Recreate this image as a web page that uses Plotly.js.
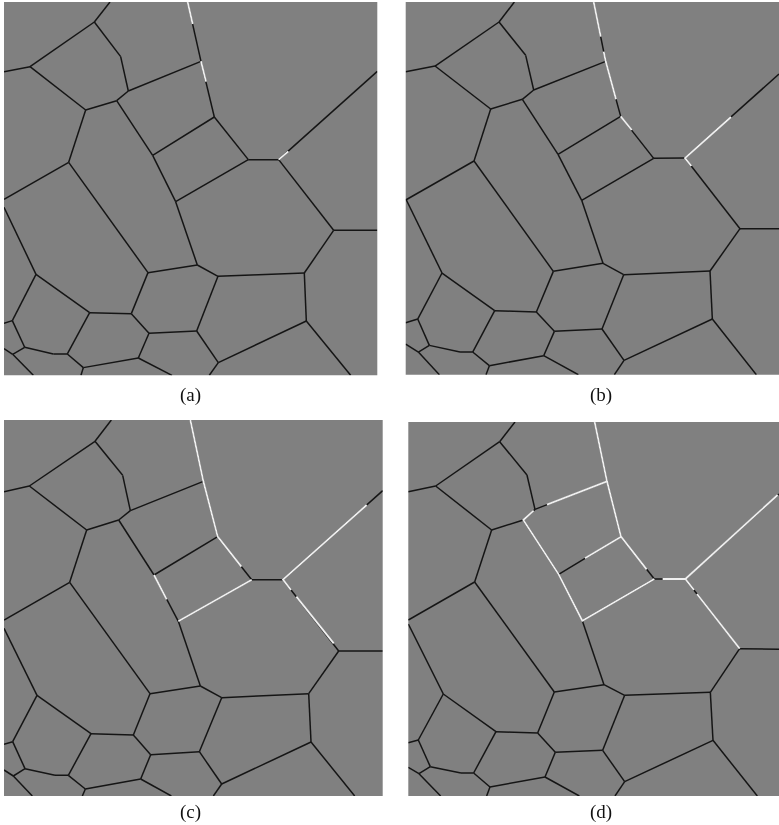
<!DOCTYPE html>
<html><head><meta charset="utf-8">
<script src="https://cdn.plot.ly/plotly-3.0.1.min.js"></script>
<style>html,body{margin:0;padding:0;background:#fff;overflow:hidden}#c{width:779px;height:825px;filter:blur(0.35px)}</style>
</head><body><div id="c"></div>
<script>
// Network vertices per panel (same vertex order in every panel)
const xA=[330,283,90,12,362,385,603,350,257,206,12,444,458,527,592,654,913,1001,1132,836,745,643,563,1132,919,1052,655,590,628,447,394,269,108,12,37,12,74,38,12,100,160,202,250,243,415,516];
const yA=[6,66,200,215,170,273,184,302,330,487,598,818,466,605,795,829,819,691,691,479,479,351,6,214,963,1126,1088,993,1126,1000,941,938,823,622,962,970,1042,1063,1046,1126,1062,1062,1103,1126,1074,1126];
const xB=[358,312,120,32,392,416,632,382,287,237,32,475,489,560,624,686,945,1035,1152,870,776,677,596,1152,952,1084,687,621,658,478,424,299,141,34,68,32,103,70,32,133,195,233,283,273,446,550];
const yB=[6,66,198,215,166,270,184,298,327,483,600,814,463,601,790,824,813,686,686,474,475,349,6,222,957,1124,1081,987,1124,994,936,932,819,600,957,968,1036,1056,1032,1124,1056,1056,1097,1124,1067,1124];
const xC=[334,285,88,12,368,391,610,356,260,209,12,450,462,535,601,665,926,1016,1148,849,755,653,571,1148,933,1064,665,598,640,452,400,273,111,12,38,12,75,40,12,97,165,205,256,247,422,514];
const yC=[30,94,228,245,196,302,214,330,360,517,630,851,495,634,828,863,851,723,723,509,509,380,30,242,996,1158,1122,1025,1158,1034,975,971,856,655,995,1003,1076,1098,1080,1158,1096,1096,1137,1158,1107,1158];
const xD=[360,314,122,40,396,420,636,385,290,239,40,478,491,562,627,689,946,1034,1152,871,778,678,599,1152,954,1087,689,623,660,481,428,303,145,40,70,40,106,72,40,137,198,236,285,275,450,553];
const yD=[36,95,228,245,195,298,214,330,360,516,630,846,493,632,824,856,847,716,718,507,507,380,36,252,991,1158,1115,1021,1158,1027,969,965,852,642,990,998,1070,1091,1072,1158,1089,1089,1131,1158,1101,1158];
// Which vertices are joined
const edgeFrom=[0,1,2,1,4,5,5,7,2,8,9,9,7,12,13,11,14,15,16,17,17,19,20,21,6,12,13,19,16,24,24,26,26,27,27,29,30,30,31,32,32,34,34,36,37,37,36,40,31,41,42,42,44,44];
const edgeTo=[1,2,3,4,5,6,7,8,8,9,10,11,12,13,14,14,15,16,17,18,19,20,21,6,22,21,20,23,24,25,26,27,28,15,29,30,11,31,32,33,34,35,36,37,38,39,40,41,41,42,43,44,29,45];
// Highlighted (white) runs along the boundaries; null ends a run
const whiteXA=[563,578,null,603,618,null,836,865];
const whiteYA=[6,72,null,184,245,null,479,454];
const whiteXB=[596,617,null,626,632,663,null,677,710,null,889,870,1008];
const whiteYB=[6,110,null,155,184,298,null,349,390,null,498,474,351];
const whiteXC=[571,610,653,724,null,873,849,1100,null,889,1001,null,462,500,null,535,755];
const whiteYC=[30,214,380,470,null,540,509,285,null,560,700,null,495,568,null,634,509];
const whiteXD=[599,636,678,755,null,456,636,null,416,385,491,562,778,null,570,678,null,803,871,897,null,906,1034,null,871,1148];
const whiteYD=[36,214,380,478,null,284,214,null,302,330,493,632,507,null,445,380,null,507,507,540,null,552,716,null,507,255];
const panelLabels=["(a)","(b)","(c)","(d)"];

const W=779,H=825,GRAY="#808080",BLACK="#151515",WHITE="#f0f0f0";
const panels=[
 {id:"",  xs:xA,ys:yA,wx:whiteXA,wy:whiteYA,xr:[12,1132],yr:[1126,6],  px:[4,377.3],  py:[2,375.3],  lab:[190.5,395]},
 {id:"2", xs:xB,ys:yB,wx:whiteXB,wy:whiteYB,xr:[32,1152],yr:[1124,6],  px:[405.7,779],py:[2,374.7],  lab:[600.7,395]},
 {id:"3", xs:xC,ys:yC,wx:whiteXC,wy:whiteYC,xr:[12,1148],yr:[1158,30], px:[4,382.7],  py:[420,796],  lab:[190.5,811.5]},
 {id:"4", xs:xD,ys:yD,wx:whiteXD,wy:whiteYD,xr:[40,1152],yr:[1158,36], px:[408.3,779],py:[422,796],  lab:[600.7,811.5]}
];
const traces=[],layout={width:W,height:H,margin:{l:0,r:0,t:0,b:0},paper_bgcolor:"#fff",showlegend:false,annotations:[]};
panels.forEach((p,i)=>{
  const ex=[],ey=[];
  edgeFrom.forEach((a,k)=>{const b=edgeTo[k];ex.push(p.xs[a],p.xs[b],null);ey.push(p.ys[a],p.ys[b],null);});
  const xa="x"+p.id,ya="y"+p.id;
  traces.push({type:"scatter",mode:"lines",x:ex,y:ey,xaxis:xa,yaxis:ya,hoverinfo:"skip",line:{color:BLACK,width:1.5}});
  traces.push({type:"scatter",mode:"lines",x:p.wx,y:p.wy,xaxis:xa,yaxis:ya,hoverinfo:"skip",line:{color:WHITE,width:1.8}});
  const base={visible:false,showgrid:false,zeroline:false,fixedrange:true};
  layout["xaxis"+p.id]=Object.assign({},base,{range:p.xr,domain:[p.px[0]/W,p.px[1]/W],anchor:ya});
  layout["yaxis"+p.id]=Object.assign({},base,{range:p.yr,domain:[1-p.py[1]/H,1-p.py[0]/H],anchor:xa});
  layout.annotations.push({xref:"paper",yref:"paper",x:p.lab[0]/W,y:1-p.lab[1]/H,text:panelLabels[i],showarrow:false,xanchor:"center",yanchor:"middle",font:{family:"Liberation Serif",size:19,color:"#111"}});
});
layout.shapes=panels.map(p=>({type:"rect",xref:"paper",yref:"paper",layer:"below",x0:p.px[0]/W,x1:p.px[1]/W,y0:1-p.py[1]/H,y1:1-p.py[0]/H,fillcolor:GRAY,line:{width:0}}));
Plotly.newPlot("c",traces,layout,{staticPlot:true,displayModeBar:false});
</script></body></html>
